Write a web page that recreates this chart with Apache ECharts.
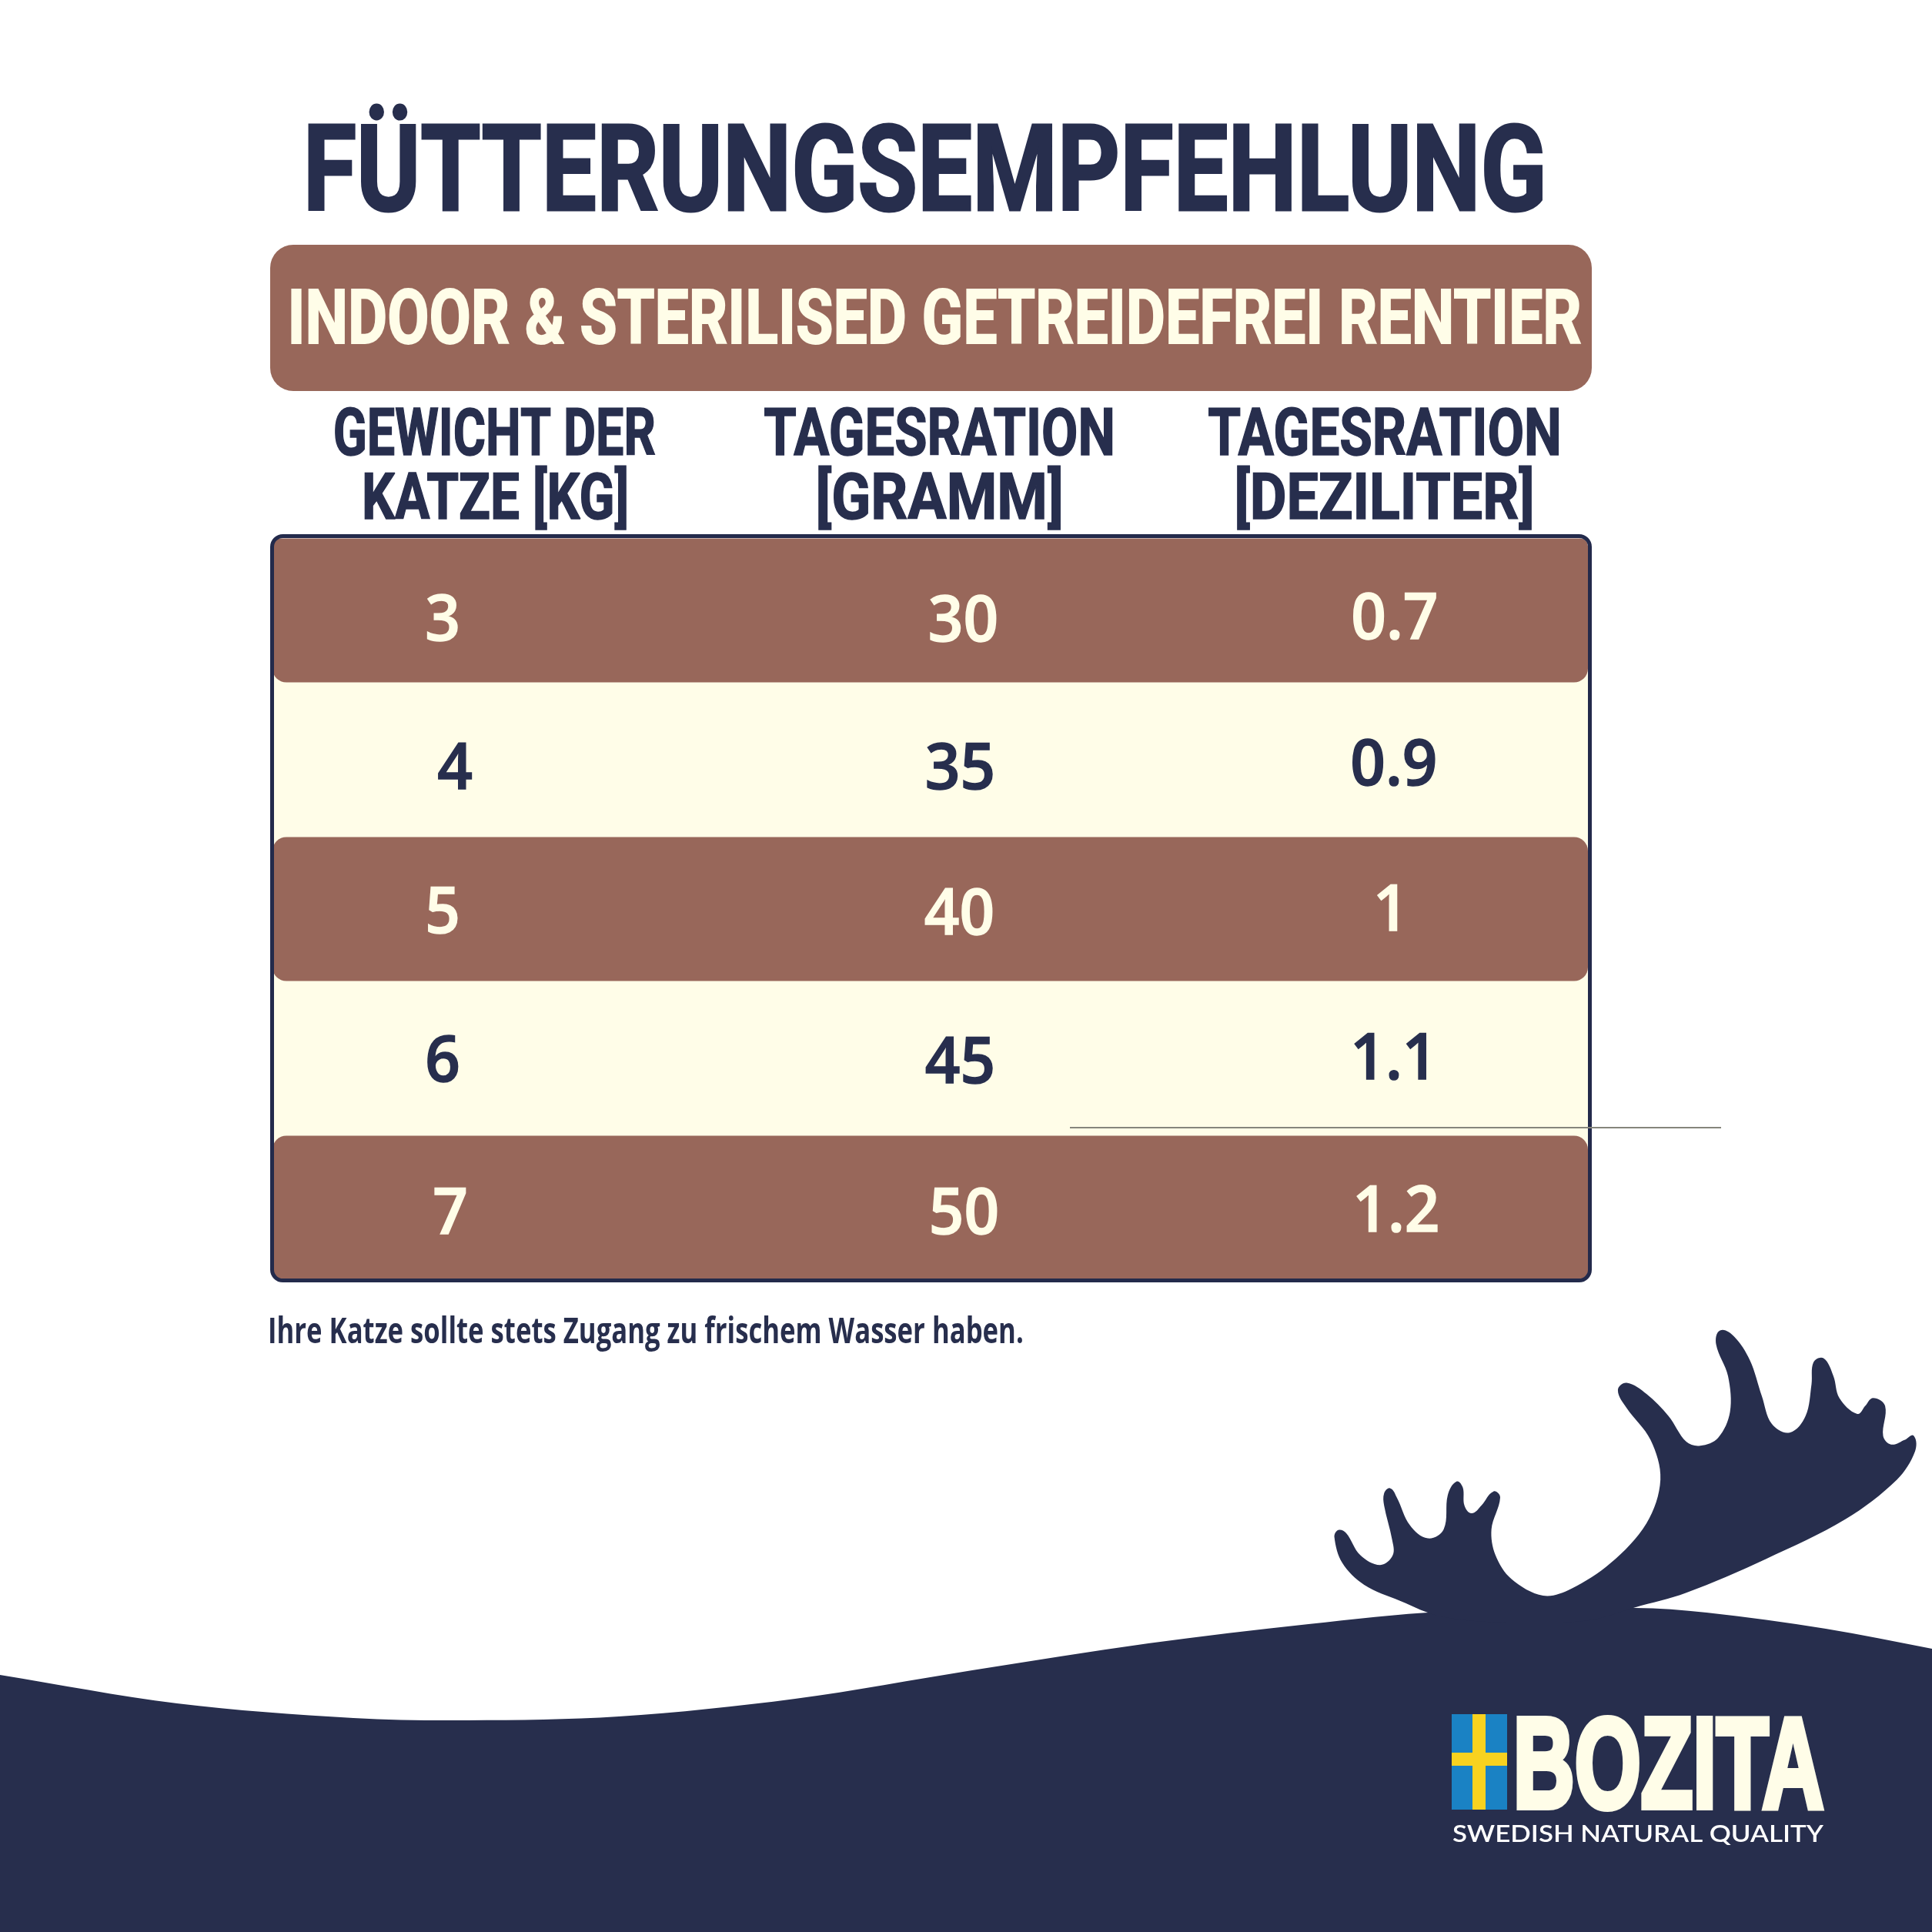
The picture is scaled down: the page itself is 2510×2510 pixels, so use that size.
<!DOCTYPE html>
<html><head><meta charset="utf-8">
<style>html,body{margin:0;padding:0;background:#fff}#c{width:2510px;height:2510px}</style>
<script src="https://cdn.jsdelivr.net/npm/echarts@6/dist/echarts.min.js"></script>
</head><body><div id="c"></div>
<script>
// ---- data ----
const titleText = 'FÜTTERUNGSEMPFEHLUNG';
const productText = 'INDOOR & STERILISED GETREIDEFREI RENTIER';
const columnHeads = [['GEWICHT DER','KATZE [KG]'],['TAGESRATION','[GRAMM]'],['TAGESRATION','[DEZILITER]']];
const weightKg = [3,4,5,6,7];
const rationGram = [30,35,40,45,50];
const rationDl = [0.7,0.9,1,1.1,1.2];
const noteText = 'Ihre Katze sollte stets Zugang zu frischem Wasser haben.';
const brandName = 'BOZITA';
const brandClaim = 'SWEDISH NATURAL QUALITY';

// ---- styles ----
const NAVY='#272e4d', BROWN='#98675a', CREAM='#fffde8';
const DISPLAY='Roboto', BODY='"Open Sans"';
// hand-placement of the printed digits, in pixels from each cell's centre
const cellNudge=[
 [[-61,15],[-45,14],[-61,7],[-61,6],[-51,10]],
 [[43,16],[39,14],[38,9],[39,8],[44,10]],
 [[31,13],[30,9],[26,4],[30,3],[33,7]]
];

const ctx=document.createElement('canvas').getContext('2d');
function fit(text,family,weight,x0,x1,capTop,capBottom,opt){
  opt=opt||{};
  ctx.textBaseline='alphabetic'; ctx.font=weight+' 100px '+family;
  const capH=ctx.measureText('H').actualBoundingBoxAscent;
  const fs=(capBottom-capTop)/capH*100;
  ctx.font=weight+' '+fs+'px '+family;
  const m=ctx.measureText(text);
  const s=(x1-x0)/(m.actualBoundingBoxLeft+m.actualBoundingBoxRight);
  ctx.textBaseline='middle';
  const h=ctx.measureText('H');
  const off=(h.actualBoundingBoxDescent-h.actualBoundingBoxAscent)/2;
  return {type:'text',x:x0+m.actualBoundingBoxLeft*s,y:(capTop+capBottom)/2-off,scaleX:s,z:opt.z||6,
    style:{text:text,font:weight+' '+fs+'px '+family,fill:opt.fill||NAVY,stroke:opt.stroke||null,lineWidth:opt.lw||0,align:'left',verticalAlign:'middle'}};
}
// smooth outline: tangents follow neighbouring points, handles scale with each segment's length
function spline(pts,closed){
  const n=pts.length,P=i=>closed?pts[(i+n)%n]:pts[Math.max(0,Math.min(n-1,i))];
  const tan=i=>{const a=P(i-1),c=P(i+1),dx=c[0]-a[0],dy=c[1]-a[1],l=Math.hypot(dx,dy)||1;return [dx/l,dy/l];};
  let d='M'+pts[0][0]+' '+pts[0][1];
  const last=closed?n:n-1;
  for(let i=0;i<last;i++){
    const b=P(i),c=P(i+1),L=Math.hypot(c[0]-b[0],c[1]-b[1])/3,t0=tan(i),t1=tan(i+1);
    d+=' C'+(b[0]+t0[0]*L)+' '+(b[1]+t0[1]*L)+' '+(c[0]-t1[0]*L)+' '+(c[1]-t1[1]*L)+' '+c[0]+' '+c[1];
  }
  return d;
}
const waveOutline=[[0,2176],[230,2213],[459,2232],[608,2235],[804,2230],[1033,2207],[1263,2170],[1492,2135],[1700,2110],[1873,2094],[2124,2089],[2217,2095],[2372,2116],[2510,2142]];
const antlerZ=[[335,775],[230,735],[140,695],[85,640],[65,575],[75,557],[95,565],[130,620],[180,645],[212,620],[210,580],[190,495],[190,465],[205,452],[222,475],[255,545],[300,578],[340,555],[350,470],[372,435],[388,450],[392,495],[410,515],[435,495],[465,460],[482,475],[460,555],[470,620],[510,680],[590,722],[660,705],[760,640],[850,540],[885,430],[860,330],[800,250],[778,205],[800,187],[850,215],[905,270],[950,335],[985,345],[1030,325],[1060,260],[1055,170],[1025,90],[1035,55],[1070,70],[1110,130],[1140,220],[1165,290],[1210,312],[1250,270],[1265,190],[1270,135],[1295,125],[1320,170],[1335,225],[1380,265],[1400,245],[1420,225],[1450,245],[1445,320],[1465,342],[1500,330],[1522,320],[1525,360],[1480,430],[1350,530],[1150,630],[950,715],[820,752],[700,785],[500,790]];
const antlerOutline=antlerZ.map(p=>[1700+p[0]*0.5166,1700+p[1]*0.5166]);

const headBoxes=[
 [[435,851,530,591],[474,814,614,674]],
 [[993,1445,530,591],[1063,1378,614,674]],
 [[1570,2025,530,591],[1607,1990,614,674]]
];
const graphics=[
 fit(titleText,DISPLAY,700,401,2003,161,273,{stroke:NAVY,lw:3}),
 {type:'rect',z:1,shape:{x:351,y:318,width:1717,height:190,r:30},style:{fill:BROWN}},
 fit(productText,DISPLAY,700,379,2053,375,446,{fill:CREAM,stroke:CREAM,lw:2}),
 {type:'rect',z:5,shape:{x:353.5,y:696.5,width:1712,height:967,r:14},style:{fill:null,stroke:'#232a4b',lineWidth:5}},
 {type:'line',z:10,shape:{x1:1390,y1:1465,x2:2236,y2:1465},style:{stroke:'#85857c',lineWidth:2}},
 fit(noteText,BODY,700,351,1328,1711,1745),
 {type:'rect',z:3,shape:{x:1886,y:2227,width:72,height:124},style:{fill:'#1a82c4'}},
 {type:'rect',z:4,shape:{x:1913,y:2227,width:17,height:124},style:{fill:'#f8d21f'}},
 {type:'rect',z:4,shape:{x:1886,y:2277,width:72,height:17},style:{fill:'#f8d21f'}},
 fit(brandName,'"Liberation Sans"',700,1973,2367,2231,2348,{fill:CREAM,stroke:CREAM,lw:8}),
 fit(brandClaim,'Lato',600,1887,2370,2370,2393,{fill:'#ffffff'})
];
columnHeads.forEach((lines,c)=>lines.forEach((t,l)=>{
  const b=headBoxes[c][l];
  graphics.push(fit(t,DISPLAY,700,b[0],b[1],b[2],b[3],{stroke:NAVY,lw:1.5}));
}));

const rows=weightKg.map((_,i)=>'r'+i);
const rowData=rows.map((_,i)=>[0,i]);
const cellData=[];
[weightKg,rationGram,rationDl].forEach((col,c)=>col.forEach((v,r)=>cellData.push([c,r,v])));

function bandSeries(name,keep,fill,factor,radius){
  return {type:'custom',name,coordinateSystem:'cartesian2d',silent:true,clip:false,z:2,
    data:rowData.filter(d=>keep(d[1])),encode:{x:0,y:1},
    renderItem(params,api){
      const cs=params.coordSys, r=api.value(1), y=api.coord([0,r])[1], h=api.size([0,1])[1]*factor;
      const rad=radius===0?0:(r===0?[10,10,radius,radius]:r===rows.length-1?[radius,radius,10,10]:radius);
      return {type:'rect',shape:{x:cs.x+4,y:y-h/2,width:cs.width-8,height:h,r:rad},style:{fill}};
    }};
}
const chart=echarts.init(document.getElementById('c'),null,{renderer:'canvas'});
chart.setOption({
  animation:false,backgroundColor:'#ffffff',
  grid:{left:350,top:696,width:1717,height:970},
  xAxis:{type:'category',data:['kg','g','dl'],show:false},
  yAxis:{type:'category',data:rows,inverse:true,show:false},
  graphic:{elements:graphics},
  series:[
    {type:'custom',name:'scenery',coordinateSystem:'none',silent:true,z:0,data:[0],
     renderItem(){
       return {type:'group',children:[
         {type:'path',shape:{pathData:spline(waveOutline,false)+' L2510 2510 L0 2510 Z'},style:{fill:NAVY}},
         {type:'path',shape:{pathData:spline(antlerOutline,true)},style:{fill:NAVY}}
       ]};
     }},
    bandSeries('cream',i=>i%2===1,CREAM,1.2,0),
    bandSeries('brown',i=>i%2===0,BROWN,0.965,18),
    {type:'custom',name:'cells',coordinateSystem:'cartesian2d',silent:true,clip:false,z:3,
     data:cellData,encode:{x:0,y:1},
     renderItem(params,api){
       const c=api.value(0),r=api.value(1),p=api.coord([c,r]),n=cellNudge[c][r];
       const col=r%2?NAVY:CREAM;
       return {type:'text',x:p[0]+n[0],y:p[1]+n[1],scaleX:0.95,
         style:{text:String(api.value(2)),font:'600 84px '+BODY,fill:col,stroke:col,lineWidth:1.5,align:'center',verticalAlign:'middle'}};
     }}
  ]
});
</script></body></html>
